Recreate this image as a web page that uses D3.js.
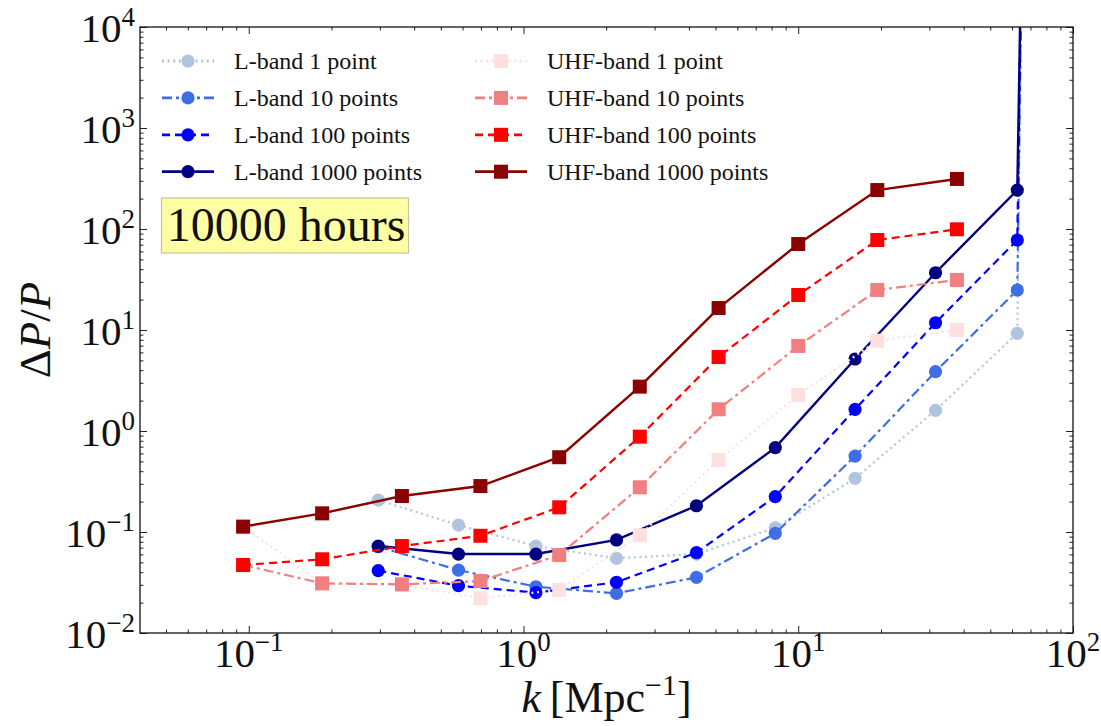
<!DOCTYPE html>
<html>
<head>
<meta charset="utf-8">
<script src="https://cdn.jsdelivr.net/npm/d3@7"></script>
<style>
  html, body { margin: 0; padding: 0; background: #fff; }
  svg { display: block; }
  text { font-family: "Liberation Serif", "DejaVu Serif", serif; fill: #111; }
</style>
</head>
<body>
<svg id="chart" width="1101" height="726"></svg>
<script>
// Wavenumbers sampled by each band [Mpc^-1]
const kLband = [0.296, 0.58, 1.11, 2.18, 4.26, 8.25, 16.1, 31.6, 62.7, 66];
const kUHF   = [0.0954, 0.185, 0.361, 0.697, 1.349, 2.65, 5.13, 10.0, 19.4, 37.8];

// Fractional error ΔP/P, L-band (last point diverges off the top)
const lband1    = [0.207, 0.117, 0.0726, 0.0549, 0.0605, 0.110, 0.340, 1.60, 9.27, 1e6];
const lband10   = [0.0715, 0.042, 0.0287, 0.0247, 0.0356, 0.097, 0.565, 3.87, 24.9, 1e6];
const lband100  = [0.0414, 0.0294, 0.0251, 0.0318, 0.0624, 0.224, 1.64, 11.8, 77.8, 1e6];
const lband1000 = [0.0726, 0.0605, 0.0605, 0.0834, 0.182, 0.684, 5.16, 36.9, 243, 1e6];

// Fractional error ΔP/P, UHF-band
const uhf1    = [0.113, 0.031, 0.0302, 0.0221, 0.0267, 0.093, 0.517, 2.27, 7.83, 10.0];
const uhf10   = [0.0471, 0.031, 0.0303, 0.0327, 0.0591, 0.277, 1.64, 6.95, 24.9, 31.3];
const uhf100  = [0.0471, 0.0537, 0.0726, 0.0918, 0.1756, 0.879, 5.4, 22.2, 77.8, 99.3];
const uhf1000 = [0.113, 0.153, 0.227, 0.285, 0.55, 2.75, 16.5, 71.0, 243, 313];

const seriesLabels = [
  "L-band 1 point", "L-band 10 points", "L-band 100 points", "L-band 1000 points",
  "UHF-band 1 point", "UHF-band 10 points", "UHF-band 100 points", "UHF-band 1000 points"
];

// Tick exponents
const xExponents = [-1, 0, 1, 2];
const yExponents = [-2, -1, 0, 1, 2, 3, 4];

const colors = ["#b0c4de", "#3d6ee3", "#0000ff", "#000080", "#ffe0de", "#f27f7f", "#ff0000", "#8b0000"];
const dashes = ["2,3.6", "10,4,3,4", "8,5", null, "2,3.6", "10,4,3,4", "8,5", null];

const series = [
  { k: kLband, v: lband1,    shape: "circle" },
  { k: kLband, v: lband10,   shape: "circle" },
  { k: kLband, v: lband100,  shape: "circle" },
  { k: kLband, v: lband1000, shape: "circle" },
  { k: kUHF,   v: uhf1,      shape: "square" },
  { k: kUHF,   v: uhf10,     shape: "square" },
  { k: kUHF,   v: uhf100,    shape: "square" },
  { k: kUHF,   v: uhf1000,   shape: "square" }
].map((s, i) => ({ ...s, label: seriesLabels[i], color: colors[i], dash: dashes[i] }));

const svg = d3.select("#chart");
const plot = { left: 140, right: 1073, top: 27, bottom: 633 };

const x = d3.scaleLog().domain([0.0402, 100]).range([plot.left, plot.right]);
const y = d3.scaleLog().domain([0.01, 10000]).range([plot.bottom, plot.top]);

svg.append("defs").append("clipPath").attr("id", "plotClip")
  .append("rect")
  .attr("x", plot.left).attr("y", plot.top)
  .attr("width", plot.right - plot.left).attr("height", plot.bottom - plot.top);

// Minor / major tick values
function minorTicks(scale) {
  const [a, b] = scale.domain();
  const out = [];
  for (let e = Math.floor(Math.log10(a)); e < Math.ceil(Math.log10(b)); e++) {
    for (let m = 2; m <= 9; m++) {
      const v = m * Math.pow(10, e);
      if (v >= a && v <= b) out.push(v);
    }
  }
  return out;
}
const xMajor = xExponents.map(e => Math.pow(10, e));
const yMajor = yExponents.map(e => Math.pow(10, e));

function frameAxis(axisFn, scale, values, len, transform) {
  const g = svg.append("g").attr("transform", transform)
    .call(axisFn(scale).tickValues(values).tickSize(len).tickFormat(""));
  g.select(".domain").remove();
  g.selectAll(".tick line").attr("stroke", "#222").attr("stroke-width", 1);
  return g;
}
// inward ticks on all four sides
frameAxis(d3.axisBottom, x, xMajor, -7, `translate(0,${plot.bottom})`);
frameAxis(d3.axisBottom, x, minorTicks(x), -3.5, `translate(0,${plot.bottom})`);
frameAxis(d3.axisTop, x, xMajor, -7, `translate(0,${plot.top})`);
frameAxis(d3.axisTop, x, minorTicks(x), -3.5, `translate(0,${plot.top})`);
frameAxis(d3.axisLeft, y, yMajor, -7, `translate(${plot.left},0)`);
frameAxis(d3.axisLeft, y, minorTicks(y), -3.5, `translate(${plot.left},0)`);
frameAxis(d3.axisRight, y, yMajor, -7, `translate(${plot.right},0)`);
frameAxis(d3.axisRight, y, minorTicks(y), -3.5, `translate(${plot.right},0)`);

svg.append("rect")
  .attr("x", plot.left).attr("y", plot.top)
  .attr("width", plot.right - plot.left).attr("height", plot.bottom - plot.top)
  .attr("fill", "none").attr("stroke", "#111").attr("stroke-width", 1.3);

// power-of-ten labels
function powerLabel(g, exp, anchor) {
  const t = g.append("text").attr("text-anchor", anchor).attr("font-size", 41);
  t.append("tspan").text("10");
  t.append("tspan").attr("font-size", 27).attr("dy", -16)
    .text(exp < 0 ? "\u2212" + Math.abs(exp) : String(exp));
  return t;
}
xExponents.forEach(e => {
  const g = svg.append("g").attr("transform", `translate(${x(Math.pow(10, e))},${plot.bottom + 34})`);
  powerLabel(g, e, "middle");
});
yExponents.forEach(e => {
  const g = svg.append("g").attr("transform", `translate(135,${y(Math.pow(10, e)) + 15})`);
  powerLabel(g, e, "end");
});

// axis titles
const yTitle = svg.append("text")
  .attr("transform", `translate(50,${(plot.top + plot.bottom) / 2}) rotate(-90)`)
  .attr("text-anchor", "middle").attr("font-size", 45);
yTitle.append("tspan").text("\u0394");
yTitle.append("tspan").attr("font-style", "italic").text("P");
yTitle.append("tspan").text("/");
yTitle.append("tspan").attr("font-style", "italic").text("P");

const xTitle = svg.append("text")
  .attr("transform", `translate(${(plot.left + plot.right) / 2},712)`)
  .attr("text-anchor", "middle").attr("font-size", 44);
xTitle.append("tspan").attr("font-style", "italic").text("k");
xTitle.append("tspan").text("\u2009[Mpc");
xTitle.append("tspan").attr("font-size", 30).attr("dy", -17).text("\u22121");
xTitle.append("tspan").attr("dy", 17).text("]");

// curves
const line = d3.line().x(d => x(d[0])).y(d => y(d[1]));
const marks = svg.append("g").attr("clip-path", "url(#plotClip)");

function drawMarker(g, shape, color) {
  if (shape === "circle") {
    g.append("circle").attr("r", 6.6).attr("fill", color);
  } else {
    g.append("rect").attr("x", -7).attr("y", -7).attr("width", 14).attr("height", 14).attr("fill", color);
  }
}

series.forEach(s => {
  const pts = s.k.map((k, i) => [k, s.v[i]]);
  marks.append("path").datum(pts)
    .attr("d", line)
    .attr("fill", "none")
    .attr("stroke", s.color)
    .attr("stroke-width", s.dash ? 2.2 : 2.4)
    .attr("stroke-dasharray", s.dash);
  pts.forEach(p => {
    const g = marks.append("g").attr("transform", `translate(${x(p[0])},${y(p[1])})`);
    drawMarker(g, s.shape, s.color);
  });
});

// legend, two columns of four
const legend = svg.append("g");
series.forEach((s, i) => {
  const col = Math.floor(i / 4), row = i % 4;
  const g = legend.append("g")
    .attr("transform", `translate(${col === 0 ? 162 : 475},${61 + row * 36.9})`);
  g.append("line").attr("x1", 0).attr("x2", 52).attr("y1", 0).attr("y2", 0)
    .attr("stroke", s.color).attr("stroke-width", 2.8)
    .attr("stroke-dasharray", s.dash);
  const m = g.append("g").attr("transform", "translate(26,0)");
  drawMarker(m, s.shape, s.color);
  g.append("text").attr("x", 72).attr("y", 8).attr("font-size", 24).text(s.label);
});

// observing time annotation
const note = svg.append("g");
note.append("rect").attr("x", 161.5).attr("y", 198).attr("width", 247).attr("height", 55)
  .attr("fill", "#ffffa3").attr("stroke", "#c4c49a").attr("stroke-width", 1.2);
note.append("text").attr("x", 286).attr("y", 241).attr("text-anchor", "middle")
  .attr("font-size", 48).text("10000 hours");
</script>
</body>
</html>
